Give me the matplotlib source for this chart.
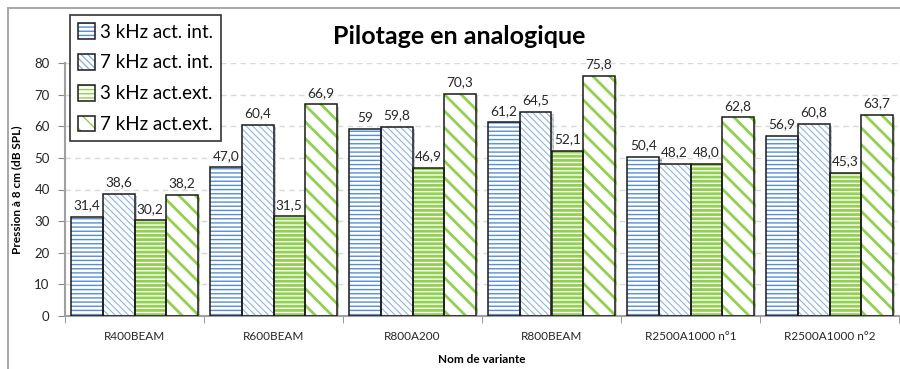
import matplotlib
matplotlib.use("Agg")
import matplotlib.pyplot as plt
import matplotlib.patheffects as pe
from matplotlib.patches import Rectangle, Patch
import numpy as np

# values as printed above the bars
categories = ["R400BEAM", "R600BEAM", "R800A200", "R800BEAM", "R2500A1000 n°1", "R2500A1000 n°2"]
int3_txt = ["31,4", "47,0", "59", "61,2", "50,4", "56,9"]
int7_txt = ["38,6", "60,4", "59,8", "64,5", "48,2", "60,8"]
ext3_txt = ["30,2", "31,5", "46,9", "52,1", "48,0", "45,3"]
ext7_txt = ["38,2", "66,9", "70,3", "75,8", "62,8", "63,7"]
series_names = ["3 kHz act. int.", "7 kHz act. int.", "3 kHz act.ext.", "7 kHz act.ext."]
yticks = [0, 10, 20, 30, 40, 50, 60, 70, 80]

def to_num(labels):
    return [float(s.replace(",", ".")) for s in labels]

series = [int3_txt, int7_txt, ext3_txt, ext7_txt]
styles = [
    ("----", "#558ED5", 1.0),
    ("\\\\\\\\\\", "#8EB4E3", 0.8),
    ("----", "#92D050", 2.0),
    ("\\\\", "#92D050", 2.0),
]

plt.rcParams["font.family"] = ["Lato", "DejaVu Sans"]
TXT = "#262626"

fig = plt.figure(figsize=(9, 3.69), dpi=100)
W, H = 900, 369
ax = fig.add_axes([65 / W, (H - 316) / H, 834 / W, 253 / H])

# outer chart frame
fig.patches.append(Rectangle((8 / W, -0.1), 1.2, (H - 8) / H + 0.1, transform=fig.transFigure,
                             fill=False, edgecolor="#A6A6A6", linewidth=1.4, zorder=0))

x = np.arange(len(categories))
w = 0.227
offsets = (np.arange(4) - 1.5) * w
handles = []

for i, (txt, (hatch, col, hlw)) in enumerate(zip(series, styles)):
    vals = to_num(txt)
    with plt.rc_context({"hatch.linewidth": hlw, "hatch.color": col}):
        fill = ax.bar(x + offsets[i], vals, w, color="white", edgecolor=col, linewidth=0,
                      hatch=hatch, zorder=2)
        for b in fill:
            if hasattr(b, "set_hatch_linewidth"):
                b.set_hatch_linewidth(hlw)
            b.set_path_effects([pe.SimplePatchShadow(offset=(2, -1.5), shadow_rgbFace="#808080", alpha=0.35),
                                pe.Normal()])
        ax.bar(x + offsets[i], vals, w, facecolor="none", edgecolor="#1a1a1a", linewidth=1.1, zorder=3)
        hp = Patch(facecolor="white", edgecolor=col, linewidth=0, hatch=hatch)
        if hasattr(hp, "set_hatch_linewidth"):
            hp.set_hatch_linewidth(hlw)
    op = Patch(facecolor="none", edgecolor="#1a1a1a", linewidth=1.1)
    handles.append((hp, op))
    for xi, v, s in zip(x + offsets[i], vals, txt):
        ax.text(xi, v + 1.8, s, ha="center", va="bottom", fontsize=9.8, color=TXT, clip_on=False)

ax.set_xlim(-0.5, len(categories) - 0.5)
ax.set_ylim(0, 80)
ax.set_yticks(yticks)
ax.set_xticks(x)
ax.set_xticklabels(categories, fontsize=8.5, color=TXT)
ax.set_xticks(np.arange(len(categories) + 1) - 0.5, minor=True)
ax.tick_params(axis="x", which="major", length=0, pad=11)
ax.tick_params(axis="x", which="minor", length=5, color="#888888", direction="out")
ax.tick_params(axis="y", length=5, color="#888888", labelsize=9.5, labelcolor=TXT, pad=6)
ax.grid(axis="y", linestyle=(0, (4, 3)), color="#D9D9D9", linewidth=1, zorder=0)
ax.set_axisbelow(True)
for side in ["top", "right"]:
    ax.spines[side].set_visible(False)
for side in ["left", "bottom"]:
    ax.spines[side].set_color("#A0A0A0")
    ax.spines[side].set_linewidth(1.5)

ax.set_ylabel("Pression à 8 cm (dB SPL)", fontsize=8.5, fontweight="bold", color="black", labelpad=10)
ax.yaxis.set_label_coords(-43 / 834, 0.5)
ax.set_xlabel("Nom de variante", fontsize=8.5, fontweight="bold", color="black")
ax.xaxis.set_label_coords(0.5, -38 / 253)

fig.text(459 / W, 1 - 37 / H, "Pilotage en analogique", ha="center", va="center",
         fontsize=18, fontweight="bold", color="black")

leg = fig.legend(handles, series_names, loc="upper left", bbox_to_anchor=(70 / W, 1 - 15 / H),
                 fontsize=13.5, frameon=True, fancybox=False, edgecolor="black",
                 handlelength=0.9, handleheight=0.9, handletextpad=0.25, labelspacing=0.72,
                 borderpad=0.45, borderaxespad=0)
leg.get_frame().set_linewidth(1.2)
leg.set_zorder(10)

fig.savefig("out.png", dpi=100, facecolor="white")
